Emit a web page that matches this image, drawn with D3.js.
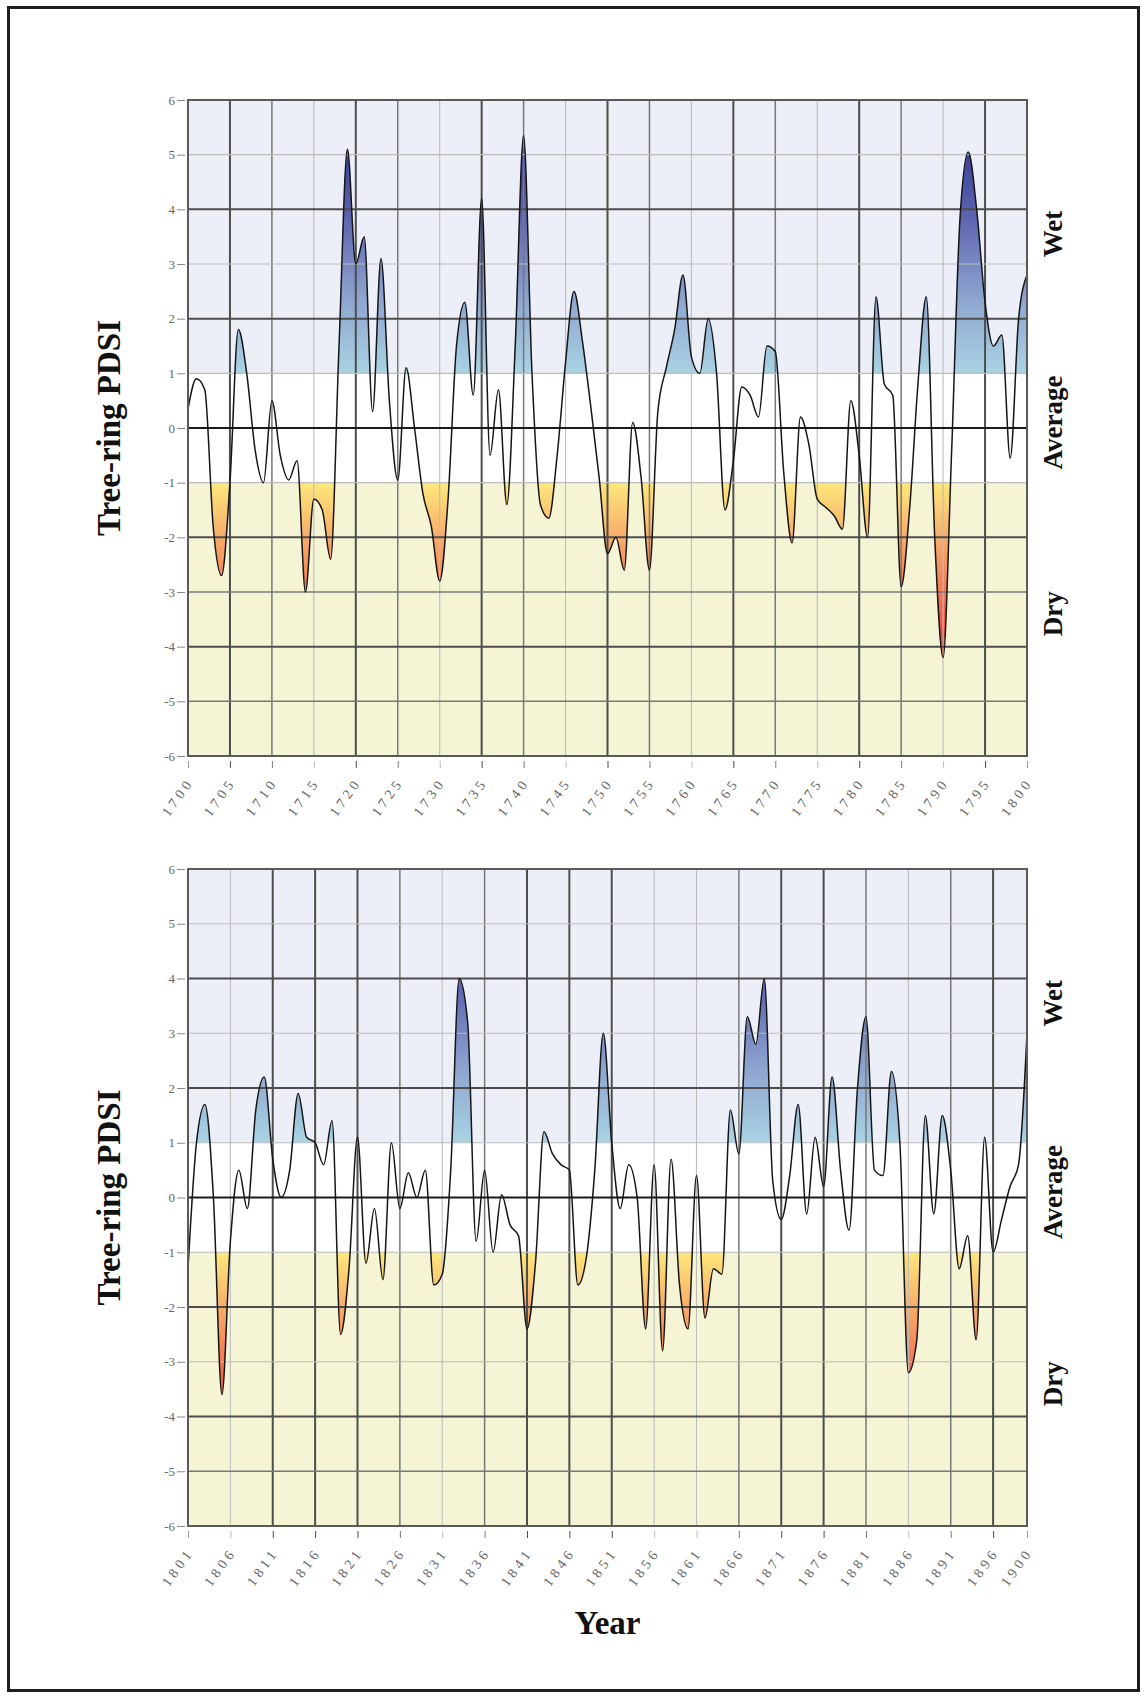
<!DOCTYPE html>
<html>
<head>
<meta charset="utf-8">
<script src="https://cdn.jsdelivr.net/npm/d3@7"></script>
<style>
  body { margin: 0; background: #fff; }
  svg { display: block; font-family: 'Liberation Serif', 'DejaVu Serif', serif; }
</style>
</head>
<body>
<div id="chart"></div>
<script>
// Tree-ring PDSI, one value per year, 1700-1800
const years1700s = d3.range(1700, 1801);
const pdsi1700s = [
  0.35, 0.9, 0.7, -1.8, -2.7, -1.0, 1.8, 1.0, -0.4, -1.0,
  0.5, -0.5, -0.95, -0.6, -3.0, -1.3, -1.5, -2.4, 1.5, 5.1,
  3.0, 3.5, 0.3, 3.1, 0.5, -0.95, 1.1, 0.0, -1.2, -1.8,
  -2.8, -1.3, 1.5, 2.3, 0.6, 4.2, -0.5, 0.7, -1.4, 1.5,
  5.35, 1.0, -1.4, -1.65, -0.5, 1.2, 2.5, 1.6, 0.4, -0.9,
  -2.3, -2.0, -2.6, 0.1, -0.9, -2.6, 0.3, 1.1, 1.8, 2.8,
  1.3, 1.0, 2.0, 1.0, -1.5, -0.6, 0.75, 0.6, 0.2, 1.5,
  1.4, -0.8, -2.1, 0.2, -0.3, -1.3, -1.45, -1.6, -1.85, 0.5,
  -0.5, -2.0, 2.4, 0.8, 0.6, -2.9, -1.5, 0.8, 2.4, -2.0,
  -4.2, -0.5, 3.8, 5.05, 4.0, 2.3, 1.5, 1.7, -0.55, 2.0,
  2.8
];

// Tree-ring PDSI, one value per year, 1801-1900
const years1800s = d3.range(1801, 1901);
const pdsi1800s = [
  -1.3, 1.0, 1.7, 0.0, -3.6, -0.8, 0.5, -0.2, 1.6, 2.2,
  0.7, 0.0, 0.5, 1.9, 1.1, 1.0, 0.6, 1.4, -2.5, -1.3,
  1.1, -1.2, -0.2, -1.5, 1.0, -0.2, 0.45, 0.0, 0.5, -1.6,
  -1.4, 0.5, 4.0, 3.2, -0.8, 0.5, -1.0, 0.05, -0.5, -0.7,
  -2.4, -1.2, 1.2, 0.8, 0.6, 0.5, -1.6, -1.1, 0.5, 3.0,
  1.0, -0.2, 0.6, 0.0, -2.4, 0.6, -2.8, 0.7, -1.6, -2.4,
  0.4, -2.2, -1.3, -1.4, 1.6, 0.8, 3.3, 2.8, 4.0, 0.3,
  -0.4, 0.4, 1.7, -0.3, 1.1, 0.2, 2.2, 0.5, -0.6, 2.0,
  3.3, 0.5, 0.4, 2.3, 1.0, -3.2, -2.6, 1.5, -0.3, 1.5,
  0.5, -1.3, -0.7, -2.6, 1.1, -1.0, -0.4, 0.2, 0.6, 3.0
];

// Axis ticks
const ticks1700s = [1700, 1705, 1710, 1715, 1720, 1725, 1730, 1735, 1740, 1745,
  1750, 1755, 1760, 1765, 1770, 1775, 1780, 1785, 1790, 1795, 1800];
const ticks1800s = [1801, 1806, 1811, 1816, 1821, 1826, 1831, 1836, 1841, 1846,
  1851, 1856, 1861, 1866, 1871, 1876, 1881, 1886, 1891, 1896, 1900];
const pdsiTicks = [6, 5, 4, 3, 2, 1, 0, -1, -2, -3, -4, -5, -6];

// Class labels on the right
const classLabels = ['Wet', 'Average', 'Dry'];
const classCenters = [3.55, 0.1, -3.4];

// Width and height of the page
const w = 1145;
const h = 1696;
const left = 188;
const right = 1027;

// Grid line looks (0 = none, 1 = light, 2 = medium, 3 = dark)
const gridLook = {
  0: {stroke: 'none', width: 0},
  1: {stroke: '#bdbdbd', width: 1.1},
  2: {stroke: '#787878', width: 1.5},
  3: {stroke: '#4d4d4d', width: 2},
};

const svg = d3
    .select('#chart')
    .append('svg')
    .attr('width', w)
    .attr('height', h);

// outer frame
svg
    .append('rect')
    .attr('x', 8.5)
    .attr('y', 7.5)
    .attr('width', 1130)
    .attr('height', 1683)
    .attr('fill', 'none')
    .attr('stroke', '#1e1e1e')
    .attr('stroke-width', 3);

const defs = svg.append('defs');

drawPanel('p1', years1700s, pdsi1700s, ticks1700s, 100, 756,
    [0, 3, 2, 1, 3, 2, 1, 3, 2, 1, 3, 2, 1, 3, 2, 1, 3, 2, 1, 3, 0],
    [0, 1, 3, 1, 3, 1, 0, 1, 3, 2, 3, 2, 0]);
drawPanel('p2', years1800s, pdsi1800s, ticks1800s, 869, 1526,
    [0, 1, 3, 3, 3, 2, 1, 2, 3, 3, 3, 1, 1, 2, 3, 3, 2, 1, 2, 3, 0],
    [0, 1, 3, 1, 3, 1, 0, 1, 3, 1, 3, 2, 0]);

// x axis title
svg
    .append('text')
    .attr('x', (left + right) / 2)
    .attr('y', 1634)
    .attr('text-anchor', 'middle')
    .attr('font-size', 33)
    .attr('font-weight', 'bold')
    .attr('fill', '#111')
    .text('Year');

// Draw one panel
function drawPanel(id, years, values, ticks, top, bottom, vLooks, hLooks) {
  const data = years.map((y, i) => ({year: y, v: values[i]}));

  const xScale = d3
      .scaleLinear()
      .domain([ticks[0], ticks[ticks.length - 1]])
      .range([left, right]);

  const yScale = d3
      .scaleLinear()
      .domain([-6, 6])
      .range([bottom, top]);

  const g = svg.append('g');

  // background bands
  g.append('rect')
      .attr('x', left).attr('width', right - left)
      .attr('y', yScale(6)).attr('height', yScale(1) - yScale(6))
      .attr('fill', '#eceff7');
  g.append('rect')
      .attr('x', left).attr('width', right - left)
      .attr('y', yScale(1)).attr('height', yScale(-1) - yScale(1))
      .attr('fill', '#ffffff');
  g.append('rect')
      .attr('x', left).attr('width', right - left)
      .attr('y', yScale(-1)).attr('height', yScale(-6) - yScale(-1))
      .attr('fill', '#f5f5d6');

  // gradients
  const wet = defs.append('linearGradient')
      .attr('id', id + '-wet')
      .attr('gradientUnits', 'userSpaceOnUse')
      .attr('x1', 0).attr('x2', 0)
      .attr('y1', yScale(1)).attr('y2', yScale(5.4));
  [[0, '#a9d3e3'], [0.3, '#8fa6d0'], [0.65, '#5d64b0'], [1, '#333790']]
      .forEach((s) => wet.append('stop')
          .attr('offset', s[0]).attr('stop-color', s[1]));

  const dry = defs.append('linearGradient')
      .attr('id', id + '-dry')
      .attr('gradientUnits', 'userSpaceOnUse')
      .attr('x1', 0).attr('x2', 0)
      .attr('y1', yScale(-1)).attr('y2', yScale(-4.3));
  [[0, '#fde87c'], [0.3, '#f8ad69'], [0.62, '#f27650'], [1, '#e72e28']]
      .forEach((s) => dry.append('stop')
          .attr('offset', s[0]).attr('stop-color', s[1]));

  // clip regions above 1 and below -1
  defs.append('clipPath').attr('id', id + '-clipwet')
      .append('rect')
      .attr('x', left).attr('width', right - left)
      .attr('y', yScale(6)).attr('height', yScale(1) - yScale(6));
  defs.append('clipPath').attr('id', id + '-clipdry')
      .append('rect')
      .attr('x', left).attr('width', right - left)
      .attr('y', yScale(-1)).attr('height', yScale(-6) - yScale(-1));

  const curve = d3.curveMonotoneX;

  const wetArea = d3.area()
      .x((d) => xScale(d.year))
      .y0(yScale(1))
      .y1((d) => yScale(d.v))
      .curve(curve);

  const dryArea = d3.area()
      .x((d) => xScale(d.year))
      .y0(yScale(-1))
      .y1((d) => yScale(d.v))
      .curve(curve);

  g.append('path')
      .datum(data)
      .attr('d', wetArea)
      .attr('fill', 'url(#' + id + '-wet)')
      .attr('clip-path', 'url(#' + id + '-clipwet)');

  g.append('path')
      .datum(data)
      .attr('d', dryArea)
      .attr('fill', 'url(#' + id + '-dry)')
      .attr('clip-path', 'url(#' + id + '-clipdry)');

  // vertical grid
  g.selectAll('.vgrid')
      .data(ticks)
      .enter()
      .append('line')
      .attr('x1', (d) => xScale(d)).attr('x2', (d) => xScale(d))
      .attr('y1', top).attr('y2', bottom)
      .attr('stroke', (d, i) => gridLook[vLooks[i]].stroke)
      .attr('stroke-width', (d, i) => gridLook[vLooks[i]].width);

  // horizontal grid
  g.selectAll('.hgrid')
      .data(pdsiTicks)
      .enter()
      .append('line')
      .attr('x1', left).attr('x2', right)
      .attr('y1', (d) => yScale(d)).attr('y2', (d) => yScale(d))
      .attr('stroke', (d, i) => d === 0 ? '#1a1a1a' : gridLook[hLooks[i]].stroke)
      .attr('stroke-width', (d, i) => d === 0 ? 2 : gridLook[hLooks[i]].width);

  // PDSI line
  const line = d3.line()
      .x((d) => xScale(d.year))
      .y((d) => yScale(d.v))
      .curve(curve);

  g.append('path')
      .datum(data)
      .attr('d', line)
      .attr('fill', 'none')
      .attr('stroke', '#151515')
      .attr('stroke-width', 1.5);

  // plot frame
  g.append('rect')
      .attr('x', left).attr('y', top)
      .attr('width', right - left).attr('height', bottom - top)
      .attr('fill', 'none')
      .attr('stroke', '#5a5a5a')
      .attr('stroke-width', 2);

  // y axis
  const yAxis = d3.axisLeft(yScale)
      .tickValues(pdsiTicks)
      .tickSize(8)
      .tickFormat((d) => String(d));

  const ya = g.append('g')
      .attr('transform', 'translate(' + (left - 3) + ',0)')
      .call(yAxis);
  ya.select('.domain').remove();
  ya.selectAll('line').attr('stroke', '#888');
  ya.selectAll('text')
      .attr('font-family', 'Liberation Serif, serif')
      .attr('font-size', 13)
      .attr('fill', '#666')
      .attr('x', -10);

  // x axis
  const xAxis = d3.axisBottom(xScale)
      .tickValues(ticks)
      .tickSize(7)
      .tickFormat(d3.format('d'));

  const xa = g.append('g')
      .attr('transform', 'translate(0,' + (bottom + 5) + ')')
      .call(xAxis);
  xa.select('.domain').remove();
  xa.selectAll('line')
      .attr('stroke', (d, i) => vLooks[i] === 0 ? '#999' : gridLook[vLooks[i]].stroke);
  xa.selectAll('text')
      .attr('font-family', 'Liberation Serif, serif')
      .attr('font-size', 14)
      .attr('letter-spacing', 4)
      .attr('fill', '#666')
      .attr('text-anchor', 'end')
      .attr('dy', 0)
      .attr('y', 0)
      .attr('transform', 'translate(6,21) rotate(-54)');

  // y axis title
  svg.append('text')
      .attr('transform', 'translate(109,' + ((top + bottom) / 2) + ') rotate(-90)')
      .attr('text-anchor', 'middle')
      .attr('dominant-baseline', 'central')
      .attr('font-size', 33)
      .attr('font-weight', 'bold')
      .attr('fill', '#111')
      .text('Tree-ring PDSI');

  // right side class labels
  svg.selectAll('.cls-' + id)
      .data(classLabels)
      .enter()
      .append('text')
      .attr('transform', (d, i) =>
        'translate(1053,' + yScale(classCenters[i]) + ') rotate(-90)')
      .attr('text-anchor', 'middle')
      .attr('dominant-baseline', 'central')
      .attr('font-size', 27)
      .attr('font-weight', 'bold')
      .attr('fill', '#111')
      .text((d) => d);
}
</script>
</body>
</html>
